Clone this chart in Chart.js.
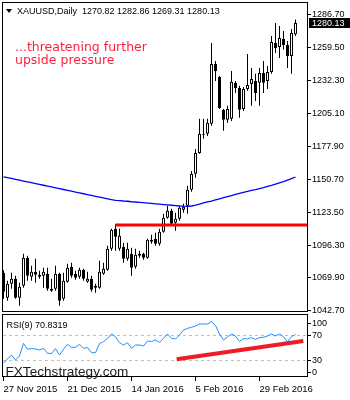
<!DOCTYPE html>
<html>
<head>
<meta charset="utf-8">
<script src="https://cdn.jsdelivr.net/npm/chart.js@4.4.0/dist/chart.umd.min.js"></script>
<style>
  html, body { margin: 0; padding: 0; background: #fff; overflow: hidden; }
  body { width: 350px; height: 400px; position: relative; font-family: "Liberation Sans", sans-serif; }
  canvas { position: absolute; left: 0; }
  .txt { position: absolute; white-space: pre; z-index: 5; }
  #tri { position: absolute; left: 6px; top: 9px; width: 0; height: 0; z-index: 5;
         border-left: 3px solid transparent; border-right: 3px solid transparent; border-top: 4px solid #000; }
</style>
</head>
<body>
<canvas id="main" width="350" height="320" style="top:0;width:350px;height:320px"></canvas>
<canvas id="rsi" width="350" height="88" style="top:312px;width:350px;height:88px"></canvas>
<div id="tri"></div>
<div class="txt" style="left:17px;top:6px;font-size:9px;line-height:11px;color:#000">XAUUSD,Daily  1270.82 1282.86 1269.31 1280.13</div>
<div class="txt" style="left:15px;top:39px;font:12.5px/15px 'DejaVu Sans';color:#ff1f3d">...threatening further</div>
<div class="txt" style="left:15px;top:51.5px;font:12.5px/15px 'DejaVu Sans';color:#ff1f3d">upside pressure</div>
<div class="txt" style="left:6.5px;top:320px;font-size:9px;line-height:11px;color:#000">RSI(9) 70.8319</div>
<div class="txt" style="left:5.5px;top:364px;font-size:13.6px;line-height:16px;color:#1e1e1e">FXTechstrategy.com</div>
<script>
// daily XAUUSD bars, oldest first
const opens = [1074.1, 1053.4, 1064.9, 1069.1, 1053.4, 1063.3, 1086.4, 1070.7, 1074.9, 1072.4,
  1071.6, 1073.2, 1060.8, 1060.8, 1073.2, 1052.6, 1066.6, 1079.0, 1073.2, 1070.7,
  1076.5, 1066.6, 1069.1, 1063.3, 1061.7, 1073.2, 1076.5, 1093.8, 1110.3, 1093.8,
  1095.5, 1085.6, 1089.7, 1079.0, 1089.7, 1089.7, 1086.4, 1101.3, 1102.1, 1097.9,
  1107.8, 1119.4, 1125.1, 1115.2, 1118.6, 1126.0, 1129.3, 1142.5, 1155.6, 1172.9,
  1188.6, 1188.6, 1196.9, 1246.3, 1235.6, 1208.4, 1200.2, 1201.0, 1230.7, 1226.5,
  1209.2, 1225.7, 1229.8, 1232.3, 1230.7, 1238.9, 1232.3, 1239.7, 1263.6, 1260.3,
  1266.9, 1262.0, 1252.9, 1270.82];
const highs = [1076.0, 1067.4, 1074.1, 1071.6, 1065.8, 1089.7, 1088.1, 1079.8, 1085.6, 1075.7,
  1078.2, 1078.2, 1069.1, 1079.8, 1074.1, 1074.1, 1081.5, 1082.3, 1075.7, 1078.2,
  1077.3, 1074.9, 1071.6, 1064.9, 1084.0, 1082.3, 1096.3, 1110.3, 1114.0, 1110.3,
  1098.8, 1098.8, 1094.6, 1093.8, 1092.2, 1090.5, 1102.1, 1105.4, 1107.0, 1110.3,
  1122.7, 1129.3, 1126.8, 1123.5, 1129.3, 1131.0, 1145.8, 1158.0, 1176.2, 1201.0,
  1201.0, 1201.0, 1263.6, 1248.8, 1236.4, 1209.2, 1211.7, 1240.5, 1232.3, 1228.2,
  1227.3, 1254.5, 1243.0, 1238.1, 1243.0, 1248.8, 1244.6, 1269.4, 1280.1, 1277.6,
  1273.5, 1265.3, 1275.2, 1282.86];
const lows = [1052.6, 1050.9, 1060.8, 1052.6, 1046.8, 1061.7, 1067.4, 1067.4, 1065.8, 1069.1,
  1061.7, 1059.2, 1058.4, 1059.2, 1046.8, 1050.9, 1065.8, 1069.9, 1068.3, 1069.1,
  1067.4, 1065.8, 1058.4, 1057.5, 1060.8, 1072.4, 1075.7, 1092.2, 1092.2, 1092.2,
  1082.3, 1084.0, 1071.6, 1077.3, 1086.4, 1084.8, 1085.6, 1097.9, 1096.3, 1096.3,
  1107.0, 1118.6, 1113.6, 1108.6, 1117.0, 1123.5, 1122.7, 1140.9, 1152.3, 1172.1,
  1184.5, 1186.9, 1195.2, 1232.3, 1209.2, 1191.1, 1197.7, 1199.3, 1222.4, 1201.8,
  1207.5, 1224.1, 1211.7, 1215.8, 1211.7, 1222.4, 1225.7, 1238.1, 1255.4, 1251.2,
  1258.2, 1243.0, 1238.1, 1269.31];
const closes = [1058.4, 1064.9, 1069.1, 1053.4, 1062.5, 1086.4, 1071.6, 1074.9, 1072.4, 1070.7,
  1074.9, 1060.8, 1059.2, 1073.2, 1050.9, 1067.4, 1078.2, 1071.6, 1069.9, 1076.5,
  1069.1, 1069.1, 1060.0, 1061.7, 1074.9, 1077.3, 1093.8, 1109.5, 1103.7, 1104.5,
  1085.6, 1093.8, 1078.2, 1088.9, 1088.1, 1086.4, 1101.3, 1099.6, 1097.9, 1107.8,
  1119.4, 1125.1, 1114.4, 1118.6, 1127.6, 1128.5, 1142.5, 1155.6, 1172.9, 1188.6,
  1187.8, 1197.7, 1246.3, 1240.5, 1210.0, 1200.2, 1209.2, 1231.5, 1226.5, 1208.4,
  1225.7, 1229.0, 1233.9, 1222.4, 1238.9, 1230.7, 1239.7, 1264.4, 1259.5, 1267.7,
  1262.0, 1252.9, 1271.9, 1280.13];
// moving average (blue)
const ma = [1153.2, 1152.5, 1151.8, 1151.1, 1150.4, 1149.7, 1149.0, 1148.3, 1147.6, 1146.9,
  1146.2, 1145.5, 1144.8, 1144.1, 1143.4, 1142.7, 1142.0, 1141.3, 1140.6, 1139.9,
  1139.2, 1138.5, 1137.8, 1137.1, 1136.4, 1135.7, 1135.0, 1134.3, 1133.8, 1133.5,
  1133.2, 1133.0, 1132.6, 1132.4, 1132.1, 1131.8, 1131.5, 1131.2, 1130.9, 1130.6,
  1130.3, 1130.0, 1129.7, 1129.4, 1129.1, 1128.9, 1128.8, 1129.1, 1129.8, 1130.6,
  1131.6, 1132.4, 1133.2, 1134.1, 1135.0, 1135.9, 1136.8, 1137.7, 1138.6, 1139.5,
  1140.3, 1141.1, 1141.9, 1142.6, 1143.4, 1144.3, 1145.3, 1146.2, 1147.2, 1148.2,
  1149.2, 1150.4, 1151.6, 1153.0];
// RSI(9)
const rsi = [25.2, 31.6, 38.0, 30.0, 36.4, 56.7, 47.1, 48.4, 47.6, 46.0,
  48.7, 40.7, 40.4, 48.4, 38.0, 47.1, 55.1, 50.3, 50.3, 55.1,
  48.7, 50.0, 41.7, 41.7, 56.4, 59.3, 64.7, 71.6, 67.3, 57.7,
  54.0, 57.7, 48.7, 54.0, 54.0, 52.4, 60.4, 59.6, 62.0, 58.3,
  64.7, 71.6, 64.7, 63.6, 70.0, 78.0, 80.7, 82.3, 84.4, 87.6,
  87.6, 87.6, 91.3, 85.2, 71.6, 62.0, 66.8, 71.6, 68.4, 59.6,
  64.4, 63.6, 66.0, 62.8, 66.0, 66.3, 68.4, 71.6, 68.4, 71.6,
  67.3, 59.3, 67.3, 70.83];

const priceTicks = [1286.70, 1259.50, 1232.30, 1205.10, 1177.90, 1150.70, 1123.50, 1096.30, 1069.90, 1042.70];
const rsiTicks = [100, 70, 30, 0];
const rsiLevels = [70, 30];
const tickBars = [0, 16, 32, 48, 64];
const tickLabels = ["27 Nov 2015", "21 Dec 2015", "14 Jan 2016", "5 Feb 2016", "29 Feb 2016"];

// hand drawn lines
const supportLevel = 1113.5;
const supportX = [28, 76.125];
const rsiTrendX = [43.3, 74.95];
const rsiTrendY = [31.1, 60.4];

const xMin = -0.125, xMax = 76.125;
const axisFont = { family: "Liberation Sans", size: 9 };

const frame = {
  id: "frame",
  afterDraw(chart) {
    const { ctx, chartArea: a } = chart;
    ctx.save();
    ctx.strokeStyle = "#000";
    ctx.lineWidth = 1;
    ctx.strokeRect(a.left - 0.5, a.top - 0.5, a.width, a.height);
    ctx.restore();
  },
};

const priceBox = {
  id: "priceBox",
  afterDraw(chart) {
    const { ctx, chartArea: a } = chart;
    const last = closes[closes.length - 1];
    const y = chart.scales.y.getPixelForValue(last);
    ctx.save();
    ctx.fillStyle = "#000";
    ctx.fillRect(a.right + 1, Math.round(y) - 5, 42, 10);
    ctx.fillStyle = "#fff";
    ctx.font = '9px "Liberation Sans"';
    ctx.textBaseline = "middle";
    ctx.fillText(last.toFixed(2), a.right + 4, Math.round(y) + 0.5);
    ctx.restore();
  },
};

const rsiDecor = {
  id: "rsiDecor",
  beforeDatasetsDraw(chart) {
    const { ctx, chartArea: a } = chart;
    const s = chart.scales.y;
    ctx.save();
    ctx.strokeStyle = "#c0c0c0";
    ctx.lineWidth = 1;
    ctx.setLineDash([3, 3]);
    rsiLevels.forEach((v) => {
      const y = Math.round(s.getPixelForValue(v)) + 0.5;
      ctx.beginPath();
      ctx.moveTo(a.left, y);
      ctx.lineTo(a.right, y);
      ctx.stroke();
    });
    ctx.restore();
  },
  afterDraw(chart) {
    const { ctx, chartArea: a } = chart;
    const s = chart.scales.y;
    ctx.save();
    ctx.fillStyle = "#000";
    ctx.font = '9px "Liberation Sans"';
    ctx.textBaseline = "middle";
    rsiTicks.forEach((v) => {
      const y = Math.min(Math.max(s.getPixelForValue(v), a.top + 8), a.bottom - 5);
      ctx.fillRect(a.right, Math.round(y), 3, 1);
      ctx.fillText(String(v), a.right + 4, y + 1);
    });
    ctx.restore();
  },
};

new Chart(document.getElementById("main"), {
  type: "bar",
  data: {
    datasets: [
      {
        label: "wick",
        data: highs.map((h, i) => ({ x: i, y: [lows[i], h] })),
        backgroundColor: "#000",
        borderWidth: 0,
        barThickness: 1,
        grouped: false,
        inflateAmount: 0,
        order: 3,
      },
      {
        label: "body",
        data: opens.map((o, i) => ({ x: i, y: [o, closes[i]] })),
        backgroundColor: opens.map((o, i) => (closes[i] >= o ? "#fff" : "#000")),
        borderColor: "#000",
        borderWidth: 1,
        borderSkipped: false,
        barThickness: 3,
        grouped: false,
        inflateAmount: 0,
        order: 2,
      },
      {
        type: "line",
        label: "MA",
        data: ma.map((v, i) => ({ x: i, y: v })),
        borderColor: "#0000ff",
        borderWidth: 1.3,
        pointRadius: 0,
        tension: 0,
        order: 1,
      },
      {
        type: "line",
        label: "support",
        data: supportX.map((x) => ({ x, y: supportLevel })),
        borderColor: "#ff0000",
        borderWidth: 3,
        pointRadius: 0,
        order: 0,
      },
    ],
  },
  options: {
    responsive: false,
    devicePixelRatio: 1,
    animation: false,
    events: [],
    layout: { padding: { left: 3, top: 3, right: 0, bottom: 8 } },
    plugins: { legend: { display: false }, tooltip: { enabled: false } },
    scales: {
      x: { type: "linear", min: xMin, max: xMax, offset: false, display: false },
      y: {
        position: "right",
        min: 1041.63,
        max: 1296.57,
        beginAtZero: false,
        afterBuildTicks: (s) => { s.ticks = priceTicks.map((v) => ({ value: v })); },
        afterFit: (s) => { s.width = 42; s.paddingTop = 0; s.paddingBottom = 0; },
        border: { display: false },
        grid: { drawOnChartArea: false, tickLength: 3, color: "#000" },
        ticks: { color: "#000", font: axisFont, padding: 1, callback: (v) => Number(v).toFixed(2) },
      },
    },
  },
  plugins: [frame, priceBox],
});

new Chart(document.getElementById("rsi"), {
  type: "line",
  data: {
    datasets: [
      {
        label: "RSI(9)",
        data: rsi.map((v, i) => ({ x: i, y: v })),
        borderColor: "#1e90ff",
        borderWidth: 1,
        pointRadius: 0,
        tension: 0,
        order: 1,
      },
      {
        label: "trend",
        data: rsiTrendX.map((x, i) => ({ x, y: rsiTrendY[i] })),
        borderColor: "#ee1c25",
        borderWidth: 4,
        pointRadius: 0,
        order: 0,
      },
    ],
  },
  options: {
    responsive: false,
    devicePixelRatio: 1,
    animation: false,
    events: [],
    layout: { padding: { left: 3, top: 3, right: 0, bottom: 0 } },
    plugins: { legend: { display: false }, tooltip: { enabled: false } },
    scales: {
      x: {
        type: "linear",
        min: xMin,
        max: xMax,
        offset: false,
        afterBuildTicks: (s) => { s.ticks = tickBars.map((v) => ({ value: v })); },
        afterFit: (s) => { s.height = 23; s.paddingLeft = 0; s.paddingRight = 0; },
        border: { display: false },
        grid: { drawOnChartArea: false, tickLength: 4, color: "#000" },
        ticks: {
          autoSkip: false,
          maxRotation: 0,
          align: "start",
          padding: 3,
          color: "#000",
          font: { family: "Liberation Sans", size: 9.5 },
          callback: (v, i) => tickLabels[i],
        },
      },
      y: {
        position: "right",
        min: 2.8,
        max: 102,
        afterFit: (s) => { s.width = 42; s.paddingTop = 0; s.paddingBottom = 0; },
        border: { display: false },
        grid: { display: false },
        ticks: { display: false },
      },
    },
  },
  plugins: [frame, rsiDecor],
});
</script>
</body>
</html>
